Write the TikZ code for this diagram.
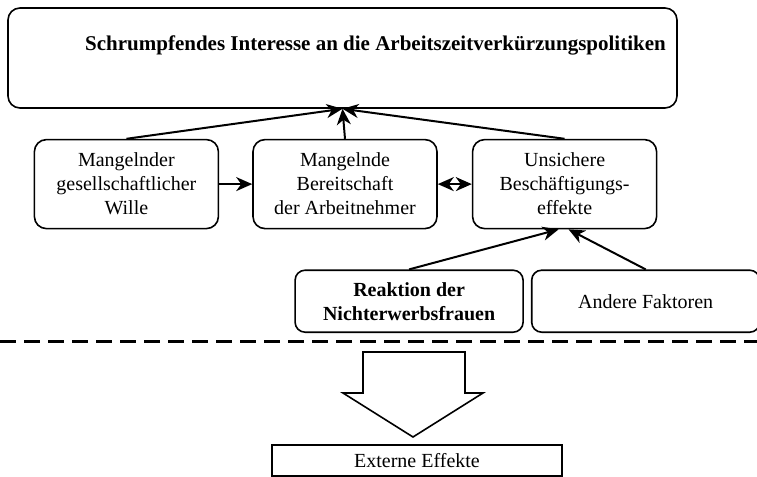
\documentclass[tikz,border=0pt]{standalone}
\usepackage{fontspec}
\setmainfont{Liberation Serif}
\usetikzlibrary{arrows.meta,positioning}

\begin{document}
\begin{tikzpicture}[
    x=0.5pt, y=-0.5pt,
    every node/.style={font=\fontsize{10}{12}\selectfont},
    topbox/.style={
        rectangle, rounded corners=6pt, draw=black, line width=0.8pt,
        align=center, minimum width=334.5pt, minimum height=50pt,
        text height=7pt, text depth=15pt,
        font=\fontsize{10.5}{12}\selectfont\bfseries
    },
    midbox/.style={
        rectangle, rounded corners=6pt, draw=black, line width=0.8pt,
        align=center, minimum width=92pt, minimum height=44.5pt
    },
    lowbox/.style={
        rectangle, rounded corners=5pt, draw=black, line width=0.8pt,
        align=center, minimum width=114pt, minimum height=31pt
    },
    flatbox/.style={
        rectangle, draw=black, line width=1pt,
        align=center, minimum width=145pt, minimum height=15.5pt
    },
    arrow/.style={-{Stealth[length=8pt,width=7pt,inset=2.5pt]}, line width=1pt},
    twoway/.style={{Stealth[length=8pt,width=7pt,inset=2.5pt]}-{Stealth[length=8pt,width=7pt,inset=2.5pt]}, line width=1pt}
]
\useasboundingbox (0,0) rectangle (757,477);

\node[topbox] (interest) at (342.5,58) {\hspace*{33pt}Schrumpfendes Interesse an die Arbeitszeitverkürzungspolitiken};
\node[midbox, below=15pt of interest, xshift=1.25pt] (bereit) {Mangelnde\\Bereitschaft\\der Arbeitnehmer};
\node[midbox, left=16.5pt of bereit] (wille) {Mangelnder\\gesellschaftlicher\\Wille};
\node[midbox, right=17pt of bereit] (effekte) {Unsichere\\Beschäftigungs-\\effekte};
\node[lowbox, below=20pt of effekte, xshift=-77.75pt, font=\fontsize{10}{12}\selectfont\bfseries] (reaktion) {Reaktion der\\Nichterwerbsfrauen};
\node[lowbox, right=3.5pt of reaktion] (andere) {Andere Faktoren};
\node[flatbox] (extern) at (417,460.5) {Externe Effekte};

\draw[arrow] (wille.north) -- (interest.south);
\draw[arrow] (bereit.north) -- (interest.south);
\draw[arrow] (effekte.north) -- (interest.south);
\draw[arrow] (wille) -- (bereit);
\draw[twoway] (bereit) -- (effekte);
\draw[arrow] (reaktion.north) -- ([xshift=-3pt]effekte.south);
\draw[arrow] (andere.north) -- ([xshift=2pt]effekte.south);

\draw[dashed, dash pattern=on 8pt off 4pt, line width=1.5pt] (0,341) -- (757,341);
\draw[line width=0.8pt] (363,352) -- (465,352) -- (465,393) -- (483,393) -- (413,437)
    -- (343,393) -- (363,393) -- cycle;
\end{tikzpicture}
\end{document}
